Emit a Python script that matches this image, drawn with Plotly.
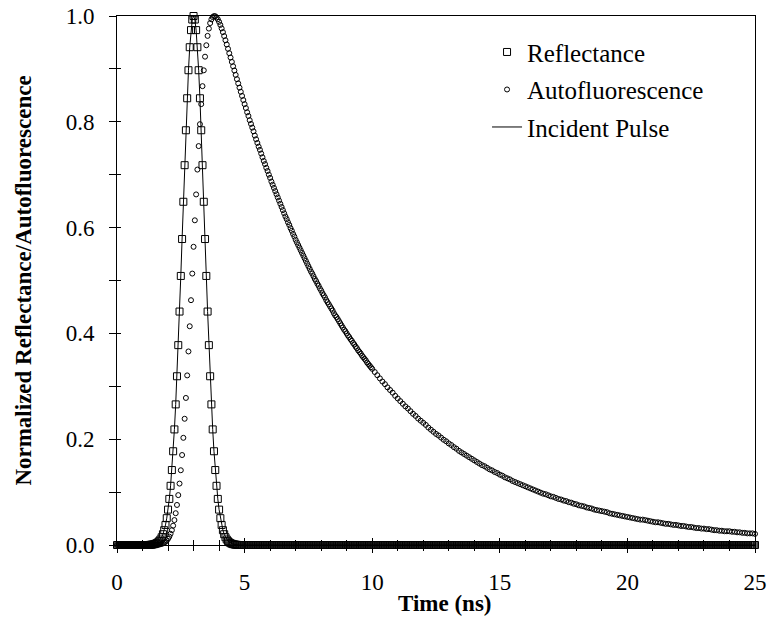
import plotly.graph_objects as go

# ---------------- data ----------------
# sampling grids (ns)
time_fine = [round(i * 0.05, 2) for i in range(501)]                      # 0.00 .. 25.00
time_fluor = [round(i * 0.05, 2) for i in range(200)] + [round(10 + i * 0.1, 1) for i in range(151)]

# reflectance / incident pulse, t = 1.30 .. 4.70 ns (0.05 ns step)
pulse_core = [
    0.0004, 0.0006, 0.0010, 0.0015, 0.0023, 0.0034, 0.0050, 0.0072, 0.0104, 0.0146,
    0.0204, 0.0280, 0.0379, 0.0507, 0.0669, 0.0871, 0.1119, 0.1417, 0.1772, 0.2185,
    0.2658, 0.3190, 0.3778, 0.4413, 0.5086, 0.5784, 0.6488, 0.7180, 0.7840, 0.8445,
    0.8975, 0.9410, 0.9733, 0.9933, 1.0000, 0.9933, 0.9733, 0.9410, 0.8975, 0.8445,
    0.7840, 0.7180, 0.6488, 0.5784, 0.5086, 0.4413, 0.3778, 0.3190, 0.2658, 0.2185,
    0.1772, 0.1417, 0.1119, 0.0871, 0.0669, 0.0507, 0.0379, 0.0280, 0.0204, 0.0146,
    0.0104, 0.0072, 0.0050, 0.0034, 0.0023, 0.0015, 0.0010, 0.0006, 0.0004,
]
reflectance = [0.0] * 26 + pulse_core + [0.0] * 406
incident_pulse = [0.0] * 26 + pulse_core + [0.0] * 406

# autofluorescence, t = 1.50 .. 5.00 ns (0.05 ns step)
fluor_rise = [
    0.0003, 0.0004, 0.0007, 0.0010, 0.0015, 0.0021, 0.0031, 0.0044, 0.0062, 0.0085,
    0.0117, 0.0158, 0.0212, 0.0280, 0.0365, 0.0471, 0.0601, 0.0757, 0.0943, 0.1161,
    0.1413, 0.1701, 0.2026, 0.2386, 0.2780, 0.3206, 0.3659, 0.4135, 0.4628, 0.5131,
    0.5637, 0.6138, 0.6627, 0.7097, 0.7541, 0.7955, 0.8334, 0.8674, 0.8973, 0.9231,
    0.9447, 0.9624, 0.9762, 0.9866, 0.9937, 0.9980, 0.9998, 0.9995, 0.9974, 0.9938,
    0.9889, 0.9831, 0.9766, 0.9695, 0.9620, 0.9542, 0.9461, 0.9380, 0.9297, 0.9215,
    0.9132, 0.9050, 0.8969, 0.8887, 0.8806, 0.8726, 0.8646, 0.8567, 0.8489, 0.8411,
    0.8334,
]
# t = 5.05 .. 9.95 ns (0.05 ns step)
fluor_decay_fine = [
    0.826, 0.818, 0.811, 0.803, 0.796, 0.789, 0.782, 0.774, 0.767, 0.760,
    0.753, 0.747, 0.740, 0.733, 0.726, 0.720, 0.713, 0.707, 0.700,
    0.694, 0.687, 0.681, 0.675, 0.669, 0.663, 0.657, 0.651, 0.645, 0.639,
    0.633, 0.627, 0.621, 0.616, 0.610, 0.605, 0.599, 0.594, 0.588, 0.583,
    0.577, 0.572, 0.567, 0.562, 0.557, 0.552, 0.547, 0.542, 0.537, 0.532,
    0.527, 0.522, 0.517, 0.513, 0.508, 0.503, 0.499, 0.494, 0.490, 0.485,
    0.481, 0.476, 0.472, 0.468, 0.463, 0.459, 0.455, 0.451, 0.447, 0.443,
    0.438, 0.434, 0.431, 0.427, 0.423, 0.419, 0.415, 0.411, 0.407, 0.404,
    0.400, 0.396, 0.393, 0.389, 0.386, 0.382, 0.379, 0.375, 0.372, 0.368,
    0.365, 0.362, 0.358, 0.355, 0.352, 0.349, 0.345, 0.342, 0.339, 0.336,
]
# t = 10.0 .. 25.0 ns (0.1 ns step)
fluor_decay_coarse = [
    0.333, 0.327, 0.321, 0.315, 0.309, 0.304, 0.298, 0.293, 0.288, 0.282,
    0.277, 0.272, 0.267, 0.262, 0.258, 0.253, 0.248, 0.244, 0.239, 0.235,
    0.231, 0.227, 0.222, 0.218, 0.214, 0.210, 0.207, 0.203, 0.199, 0.196,
    0.192, 0.189, 0.185, 0.182, 0.178, 0.175, 0.172, 0.169, 0.166, 0.163,
    0.160, 0.157, 0.154, 0.151, 0.149, 0.146, 0.143, 0.141, 0.138, 0.136,
    0.133, 0.131, 0.128, 0.126, 0.124, 0.121, 0.119, 0.117, 0.115, 0.113,
    0.111, 0.109, 0.107, 0.105, 0.103, 0.101, 0.099, 0.097, 0.096, 0.094,
    0.092, 0.091, 0.089, 0.087, 0.086, 0.084, 0.083, 0.081, 0.080, 0.078,
    0.077, 0.075, 0.074, 0.073, 0.071, 0.070, 0.069, 0.067, 0.066, 0.065,
    0.064, 0.063, 0.062, 0.060, 0.059, 0.058, 0.057, 0.056, 0.055, 0.054,
    0.053, 0.052, 0.051, 0.050, 0.049, 0.048, 0.048, 0.047, 0.046, 0.045,
    0.044, 0.043, 0.043, 0.042, 0.041, 0.040, 0.040, 0.039, 0.038, 0.038,
    0.037, 0.036, 0.036, 0.035, 0.034, 0.034, 0.033, 0.032, 0.032, 0.031,
    0.031, 0.030, 0.030, 0.029, 0.028, 0.028, 0.027, 0.027, 0.026, 0.026,
    0.026, 0.025, 0.025, 0.024, 0.024, 0.023, 0.023, 0.022, 0.022, 0.022,
    0.021,
]
autofluorescence = [0.0] * 30 + fluor_rise + fluor_decay_fine + fluor_decay_coarse

x_ticks = [0, 5, 10, 15, 20, 25]
y_ticks = [0.0, 0.2, 0.4, 0.6, 0.8, 1.0]

# ---------------- figure ----------------
SERIF = "Liberation Serif"
fig = go.Figure()

fig.add_trace(go.Scatter(
    x=time_fine, y=reflectance, name="Reflectance", mode="markers", legendgroup="r",
    marker=dict(symbol="square-open", size=7, color="black", line=dict(width=1, color="black")),
    cliponaxis=False,
))
fig.add_trace(go.Scatter(
    x=time_fluor, y=autofluorescence, name="Autofluorescence", mode="markers", legendgroup="a",
    marker=dict(symbol="circle-open", size=5, color="black", line=dict(width=1, color="black")),
    cliponaxis=False,
))
fig.add_trace(go.Scatter(
    x=time_fine, y=incident_pulse, name="Incident Pulse", mode="lines", legendgroup="p",
    line=dict(color="black", width=1),
    cliponaxis=False,
))
# empty trace so the overlay axes (inner tick halves) are drawn
fig.add_trace(go.Scatter(x=[], y=[], xaxis="x2", yaxis="y2", showlegend=False, hoverinfo="skip"))

fig.update_layout(
    template="none",
    width=767, height=634, autosize=False,
    margin=dict(l=117, r=12, t=16, b=89, pad=0),
    paper_bgcolor="white", plot_bgcolor="white",
    font=dict(family=SERIF, color="black", size=23),
    showlegend=True,
    legend=dict(
        x=0.58, y=0.975, xanchor="left", yanchor="top",
        font=dict(family=SERIF, size=25, color="black"),
        bgcolor="rgba(0,0,0,0)", borderwidth=0,
        traceorder="grouped", tracegroupgap=2, itemwidth=30,
    ),
    xaxis=dict(
        range=[0, 25], tickmode="array", tickvals=x_ticks, ticktext=[str(v) for v in x_ticks],
        showline=True, linecolor="black", linewidth=1, mirror=True,
        ticks="outside", ticklen=7, tickwidth=1, tickcolor="black",
        minor=dict(dtick=1, tick0=0, ticks="outside", ticklen=5, tickwidth=1, tickcolor="black",
                   showgrid=False),
        showgrid=False, zeroline=False, automargin=False,
        tickfont=dict(family=SERIF, size=23, color="black"),
        ticklabelstandoff=9, ticklabeloverflow="allow",
    ),
    yaxis=dict(
        range=[0, 1], tickmode="array", tickvals=y_ticks, ticktext=[f"{v:.1f}" for v in y_ticks],
        showline=True, linecolor="black", linewidth=1, mirror=True,
        ticks="outside", ticklen=7, tickwidth=1, tickcolor="black",
        minor=dict(dtick=0.1, tick0=0, ticks="outside", ticklen=7, tickwidth=1, tickcolor="black",
                   showgrid=False),
        showgrid=False, zeroline=False, automargin=False,
        tickfont=dict(family=SERIF, size=23, color="black"),
        ticklabelstandoff=10, ticklabeloverflow="allow",
        title=dict(text="<b>Normalized Reflectance/Autofluorescence</b>",
                   font=dict(family=SERIF, size=23, color="black"), standoff=27),
    ),
    xaxis2=dict(
        overlaying="x", anchor="y2", side="bottom", range=[0, 25],
        tickmode="array", tickvals=x_ticks, showticklabels=False,
        ticks="inside", ticklen=7, tickwidth=1, tickcolor="black",
        minor=dict(dtick=1, tick0=0, ticks="inside", ticklen=5, tickwidth=1, tickcolor="black",
                   showgrid=False),
        showgrid=False, zeroline=False, showline=False, automargin=False,
    ),
    yaxis2=dict(
        overlaying="y", anchor="x2", side="left", range=[0, 1],
        tickmode="array", tickvals=y_ticks, showticklabels=False,
        ticks="inside", ticklen=4, tickwidth=1, tickcolor="black",
        minor=dict(dtick=0.1, tick0=0, ticks="inside", ticklen=4, tickwidth=1, tickcolor="black",
                   showgrid=False),
        showgrid=False, zeroline=False, showline=False, automargin=False,
    ),
    annotations=[dict(
        text="<b>Time (ns)</b>", xref="paper", yref="paper", x=0.514, y=-0.1115,
        xanchor="center", yanchor="middle", showarrow=False,
        font=dict(family=SERIF, size=23, color="black"),
    )],
)

fig.write_html("out.html", config={"displayModeBar": False},
               post_script="document.body.style.margin='0px';")
